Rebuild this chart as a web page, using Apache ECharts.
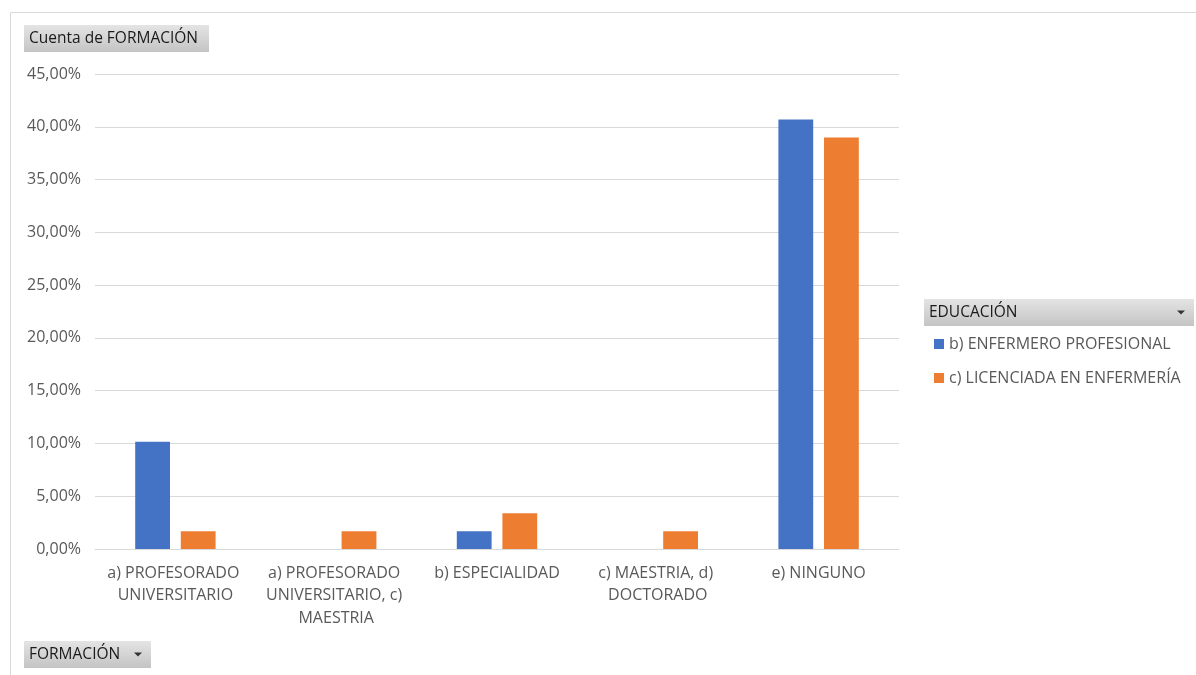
<!DOCTYPE html>
<html>
<head>
<meta charset="utf-8">
<script src="https://cdn.jsdelivr.net/npm/echarts@6/dist/echarts.min.js"></script>
<style>
  html, body { margin: 0; padding: 0; background: #ffffff; }
  #chart { width: 1196px; height: 675px; }
</style>
</head>
<body>
<div id="chart"></div>
<script>
// Categories (FORMACIÓN) and share of responses per EDUCACIÓN group, in percent
const categories = [
  'a) PROFESORADO UNIVERSITARIO',
  'a) PROFESORADO UNIVERSITARIO, c) MAESTRIA',
  'b) ESPECIALIDAD',
  'c) MAESTRIA, d) DOCTORADO',
  'e) NINGUNO'
];
const seriesNames = ['b) ENFERMERO PROFESIONAL', 'c) LICENCIADA EN ENFERMERÍA'];
const enfermeroProfesional = [10.17, null, 1.69, null, 40.68];
const licenciadaEnfermeria = [1.69, 1.69, 3.39, 1.69, 38.98];
const yTicks = { min: 0, max: 45, interval: 5 };

const FONT = '"Open Sans", "Noto Sans", sans-serif';
const chart = echarts.init(document.getElementById('chart'), null, { renderer: 'canvas' });

// grey field-button look used by the pivot chart buttons
const buttonFill = new echarts.graphic.LinearGradient(0, 0, 0, 1, [
  { offset: 0, color: '#e4e4e4' },
  { offset: 1, color: '#c4c4c4' }
]);
function button(x, y, w, h, label, arrow) {
  const children = [
    { type: 'rect', shape: { x: 0, y: 0, width: w, height: h }, style: { fill: buttonFill } },
    { type: 'text', x: 5, y: h / 2, style: { text: label, fill: '#1a1a1a', font: '15.5px ' + FONT, verticalAlign: 'middle' } }
  ];
  if (arrow) {
    children.push({ type: 'polygon', shape: { points: [[w - 17, h / 2 - 2], [w - 9, h / 2 - 2], [w - 13, h / 2 + 2]] }, style: { fill: '#333' } });
  }
  return { type: 'group', x: x, y: y, children: children };
}

chart.setOption({
  animation: false,
  backgroundColor: '#ffffff',
  textStyle: { fontFamily: FONT },
  grid: { left: 95, right: 297, top: 74, bottom: 126, containLabel: false },
  legend: {
    orient: 'vertical',
    left: 929, top: 331,
    itemWidth: 10, itemHeight: 10, itemGap: 18,
    icon: 'rect',
    textStyle: { color: '#595959', fontSize: 16, fontFamily: FONT },
    data: seriesNames
  },
  xAxis: {
    type: 'category',
    data: categories,
    axisLine: { show: true, lineStyle: { color: '#d9d9d9', width: 1 } },
    axisTick: { show: false },
    axisLabel: {
      color: '#595959', fontSize: 16, fontFamily: FONT,
      interval: 0, margin: 13, lineHeight: 22.5,
      width: 150, overflow: 'break'
    }
  },
  yAxis: {
    type: 'value',
    min: yTicks.min, max: yTicks.max, interval: yTicks.interval,
    axisLine: { show: false },
    axisTick: { show: false },
    splitLine: { lineStyle: { color: '#d9d9d9', width: 1 } },
    axisLabel: {
      color: '#595959', fontSize: 16, fontFamily: FONT, margin: 14,
      formatter: v => v.toFixed(2).replace('.', ',') + '%'
    }
  },
  series: [
    {
      name: seriesNames[0], type: 'bar', data: enfermeroProfesional,
      itemStyle: { color: '#4472c4' }, barGap: '31%', barCategoryGap: '50%'
    },
    {
      name: seriesNames[1], type: 'bar', data: licenciadaEnfermeria,
      itemStyle: { color: '#ed7d31' }
    }
  ],
  graphic: [
    { type: 'rect', shape: { x: 10.5, y: 12.5, width: 1200, height: 700 }, style: { fill: 'none', stroke: '#d9d9d9', lineWidth: 1 }, silent: true },
    button(24, 25, 185, 27, 'Cuenta de FORMACIÓN', false),
    button(924, 299, 270, 27, 'EDUCACIÓN', true),
    button(24, 641, 127, 27, 'FORMACIÓN', true)
  ]
});
</script>
</body>
</html>
